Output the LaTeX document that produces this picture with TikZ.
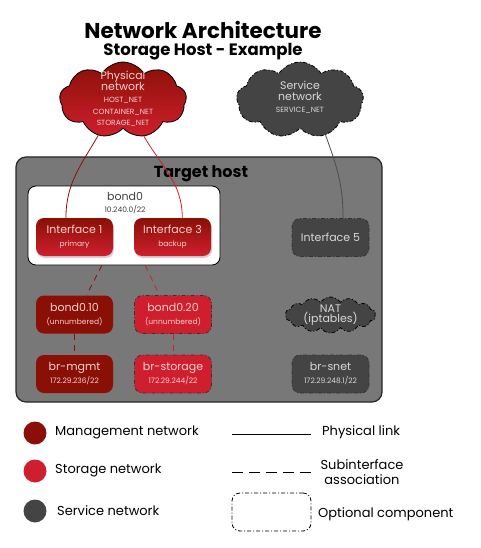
\documentclass[tikz,border=0pt]{standalone}
\usepackage{fontspec}
\setmainfont{Poppins}
\usetikzlibrary{shapes.symbols,shadows}

\definecolor{mgmtred}{HTML}{8A1006}
\definecolor{storred}{HTML}{CF1F2E}
\definecolor{svcgray}{HTML}{444444}
\definecolor{hostgray}{HTML}{787878}
\definecolor{pinktext}{HTML}{F4D2D2}
\definecolor{greytext}{HTML}{D8D8D8}

\newcommand{\nameline}[1]{{\fontsize{11}{12}\selectfont #1}}
\newcommand{\subline}[1]{{\fontsize{7.5}{9}\selectfont #1}}

\begin{document}
\begin{tikzpicture}[x=1pt,y=-1pt]
        \tikzstyle{optional}=[dash pattern=on 4pt off 2pt on 1pt off 2pt]
        \tikzstyle{netbox}=[rectangle,rounded corners=8pt,minimum width=77pt,minimum height=38pt,align=center,inner sep=1pt]
        \tikzstyle{ifbox}=[netbox,top color=mgmtred,bottom color=storred,text=pinktext,drop shadow={opacity=0.35,shadow xshift=1pt,shadow yshift=-2pt}]
        \tikzstyle{mgmtbox}=[netbox,fill=mgmtred,text=pinktext]
        \tikzstyle{storbox}=[netbox,fill=storred,text=pinktext,draw=black!80,thick,optional]
        \tikzstyle{svcbox}=[netbox,fill=svcgray,text=greytext,draw=black!80,thick,optional]
        \tikzstyle{netcloud}=[cloud,cloud puffs=9,cloud puff arc=115,aspect=1.6,draw=black,thick]
        \tikzstyle{sublink}=[dash pattern=on 6pt off 5pt,thick]
        \tikzstyle{legendtext}=[anchor=west,font=\fontsize{13}{15}\selectfont,inner sep=0pt]
        \useasboundingbox (0,0) rectangle (480,548);
       % title
       \node [font=\fontsize{21.5}{24}\selectfont\bfseries] (title) at (203,30) {Network Architecture};
       \node [font=\fontsize{16.5}{18}\selectfont\bfseries] (subtitle) at (203,52) {Storage Host - Example};
       % clouds
       \node [netcloud,top color=mgmtred,bottom color=storred,minimum width=127pt,minimum height=76pt] (physnet) at (123,100) {};
       \node [align=center,text=pinktext,inner sep=0pt] (physlabel) at (123,99) {\nameline{Physical}\\[-1pt]\nameline{network}\\[0pt]\subline{HOST\_NET}\\[-0.5pt]\subline{CONTAINER\_NET}\\[-0.5pt]\subline{STORAGE\_NET}};
       \node [netcloud,fill=svcgray,optional,minimum width=127pt,minimum height=76pt] (svcnet) at (300,100) {};
       \node [align=center,text=greytext,inner sep=0pt] (svclabel) at (300,97) {\nameline{Service}\\[-1pt]\nameline{network}\\[0pt]\subline{SERVICE\_NET}};
       % target host
       \node [rectangle,rounded corners=10pt,fill=hostgray,draw=black!85,line width=1.2pt,minimum width=366pt,minimum height=245pt] (host) at (199,279.5) {};
       \node [font=\fontsize{16}{18}\selectfont\bfseries] (hostlabel) at (201,174) {Target host};
       \node [rectangle,rounded corners=8pt,fill=white,draw=black,thick,minimum width=192pt,minimum height=79pt] (bond0) at (124,225.5) {};
       \node [align=center,text=black!75] (bond0label) at (125,203) {\nameline{bond0}\\[0pt]\subline{10.240.0/22}};
       \node [ifbox] (if1) at (74.5,237) {\nameline{Interface 1}\\[1pt]\subline{primary}};
       \node [ifbox] (if3) at (172.5,237) {\nameline{Interface 3}\\[1pt]\subline{backup}};
       \node [svcbox] (if5) at (330.5,237.5) {\nameline{Interface 5}};
       \node [mgmtbox] (b010) at (74.5,314.5) {\nameline{bond0.10}\\[1pt]\subline{(unnumbered)}};
       \node [storbox] (b020) at (173,314.5) {\nameline{bond0.20}\\[1pt]\subline{(unnumbered)}};
       \node [netcloud,fill=svcgray,optional,minimum width=90pt,minimum height=36pt,aspect=2.6,cloud puffs=14] (nat) at (330.5,315) {};
       \node [align=center,text=greytext,inner sep=0pt] (natlabel) at (330.5,315) {\nameline{NAT}\\[-2pt]\nameline{(iptables)}};
       \node [mgmtbox] (brmgmt) at (74.5,374) {\nameline{br-mgmt}\\[1pt]\subline{172.29.236/22}};
       \node [storbox] (brstorage) at (173,374) {\nameline{br-storage}\\[1pt]\subline{172.29.244/22}};
       \node [svcbox] (brsnet) at (330.5,374) {\nameline{br-snet}\\[1pt]\subline{172.29.248.1/22}};
       % links
       \draw [mgmtred,thick] (physnet.235) to[out=-120,in=90] (if1.114);
       \draw [storred,thick] (physnet.300) to[out=-60,in=90] (if3.63);
       \draw [black!70,thick] (svcnet.306) to[out=-70,in=90] (if5.57);
       \draw [mgmtred,sublink] (bond0.241) -- (b010.58);
       \draw [storred,sublink] (bond0.298) -- (b020.125);
       \draw [mgmtred,sublink] (b010.south) -- (brmgmt.north);
       \draw [storred,sublink] (b020.south) -- (brstorage.north);
       % legend
       \node [circle,fill=mgmtred,minimum size=23pt,inner sep=0pt] (keymgmt) at (35,433) {};
       \node [legendtext] (keymgmttext) at (55,432) {Management network};
       \node [circle,fill=storred,minimum size=23pt,inner sep=0pt] (keystor) at (35,471) {};
       \node [legendtext] (keystortext) at (55,470) {Storage network};
       \node [circle,fill=svcgray,minimum size=23pt,inner sep=0pt] (keysvc) at (35,511) {};
       \node [legendtext] (keysvctext) at (57,511) {Service network};
       \coordinate (physa) at (232,434);
       \coordinate (physb) at (311,434);
       \draw [black,thick] (physa) -- (physb);
       \node [legendtext] (physkey) at (322,432) {Physical link};
       \coordinate (suba) at (232,472);
       \coordinate (subb) at (311,472);
       \draw [black,thick,dash pattern=on 11pt off 6pt] (suba) -- (subb);
       \node [align=center,font=\fontsize{13}{15}\selectfont,inner sep=0pt] (subkey) at (362,472) {Subinterface\\association};
       \node [rectangle,rounded corners=8pt,draw=black,thick,optional,minimum width=79pt,minimum height=38pt] (optkey) at (271.5,512) {};
       \node [legendtext] (optkeytext) at (318,514) {Optional component};
\end{tikzpicture}
\end{document}
